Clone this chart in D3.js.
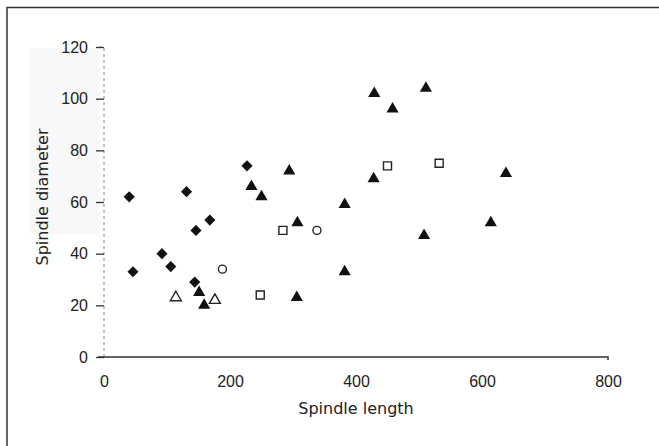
<!DOCTYPE html>
<html>
<head>
<meta charset="utf-8">
<script src="https://cdn.jsdelivr.net/npm/d3@7"></script>
<style>
  body { margin: 0; background: #fff; }
  svg { display: block; font-family: "DejaVu Sans", "Liberation Sans", sans-serif; }
  .axis text { font-size: 16px; fill: #222; }
  .axis-label { font-size: 16px; fill: #222; }
</style>
</head>
<body>
<div id="chart-area"><svg></svg></div>
<script>
// values
const filledDiamonds = [
  [40, 62], [46, 33], [92, 40], [106, 35], [131, 64],
  [146, 49], [168, 53], [227, 74], [144, 29]
];
const filledTriangles = [
  [151, 25], [159, 20], [234, 66], [250, 62], [294, 72], [307, 52],
  [306, 23], [429, 102], [511, 104], [458, 96], [428, 69], [382, 59],
  [508, 47], [382, 33], [638, 71], [614, 52]
];
const openSquares = [[248, 24], [284, 49], [450, 74], [532, 75]];
const openCircles = [[188, 34], [338, 49]];
const openTriangles = [[114, 23], [176, 22]];

const xTicks = [0, 200, 400, 600, 800];
const yTicks = [0, 20, 40, 60, 80, 100, 120];

const chartSize = { width: 659, height: 446 };
const margin = { left: 104, top: 47 };
const width = 504;
const height = 310;

const main = () => {
  const svg = d3.select("#chart-area svg")
    .attr("width", chartSize.width)
    .attr("height", chartSize.height);

  // faint scan shading behind the y axis
  svg.append("rect")
    .attr("x", 30).attr("y", 48)
    .attr("width", 70).attr("height", 186)
    .attr("fill", "#f8f8f8");

  // frame (top + left only)
  svg.append("path")
    .attr("d", `M7,${chartSize.height} V7.5 H${chartSize.width}`)
    .attr("fill", "none")
    .attr("stroke", "#333")
    .attr("stroke-width", 1.5);

  const g = svg.append("g")
    .attr("transform", `translate(${margin.left},${margin.top})`);

  const x = d3.scaleLinear().domain([0, 800]).range([0, width]);
  const y = d3.scaleLinear().domain([0, 120]).range([height, 0]);

  const yAxis = g.append("g").attr("class", "y-axis axis")
    .call(d3.axisLeft(y).tickValues(yTicks).tickSize(8).tickPadding(8));
  yAxis.select(".domain")
    .attr("stroke", "#888")
    .attr("stroke-dasharray", "3,3")
    .attr("d", `M0,${height} V0 H-6`);
  yAxis.selectAll(".tick line").attr("stroke", "#333").attr("stroke-width", 1.3);

  const xAxis = g.append("g").attr("class", "x-axis axis")
    .attr("transform", `translate(0,${height})`)
    .call(d3.axisBottom(x).tickValues(xTicks).tickSize(0).tickPadding(19));
  xAxis.select(".domain")
    .attr("stroke", "#333")
    .attr("stroke-width", 1.5)
    .attr("d", `M-6,0 H${width} v3`);

  g.append("text")
    .attr("class", "axis-label")
    .attr("x", width / 2)
    .attr("y", height + 57)
    .attr("text-anchor", "middle")
    .text("Spindle length");

  g.append("text")
    .attr("class", "axis-label")
    .attr("transform", "rotate(-90)")
    .attr("x", -150)
    .attr("y", -56)
    .attr("text-anchor", "middle")
    .text("Spindle diameter");

  const pos = d => `translate(${x(d[0])},${y(d[1])})`;

  g.selectAll(".diamond").data(filledDiamonds).enter()
    .append("path")
    .attr("class", "diamond")
    .attr("d", d3.symbol(d3.symbolSquare, 62)())
    .attr("transform", d => pos(d) + " rotate(45)")
    .attr("fill", "#111");

  const tri = d3.symbol(d3.symbolTriangle, 64)();
  g.selectAll(".tri").data(filledTriangles).enter()
    .append("path")
    .attr("class", "tri")
    .attr("d", tri)
    .attr("transform", pos)
    .attr("fill", "#111");

  g.selectAll(".otri").data(openTriangles).enter()
    .append("path")
    .attr("class", "otri")
    .attr("d", d3.symbol(d3.symbolTriangle, 52)())
    .attr("transform", pos)
    .attr("fill", "none")
    .attr("stroke", "#222")
    .attr("stroke-width", 1.4);

  g.selectAll(".sq").data(openSquares).enter()
    .append("path")
    .attr("class", "sq")
    .attr("d", d3.symbol(d3.symbolSquare, 64)())
    .attr("transform", pos)
    .attr("fill", "none")
    .attr("stroke", "#222")
    .attr("stroke-width", 1.4);

  g.selectAll(".circ").data(openCircles).enter()
    .append("circle")
    .attr("class", "circ")
    .attr("cx", d => x(d[0]))
    .attr("cy", d => y(d[1]))
    .attr("r", 4)
    .attr("fill", "none")
    .attr("stroke", "#222")
    .attr("stroke-width", 1.4);
};

window.onload = main;
</script>
</body>
</html>
